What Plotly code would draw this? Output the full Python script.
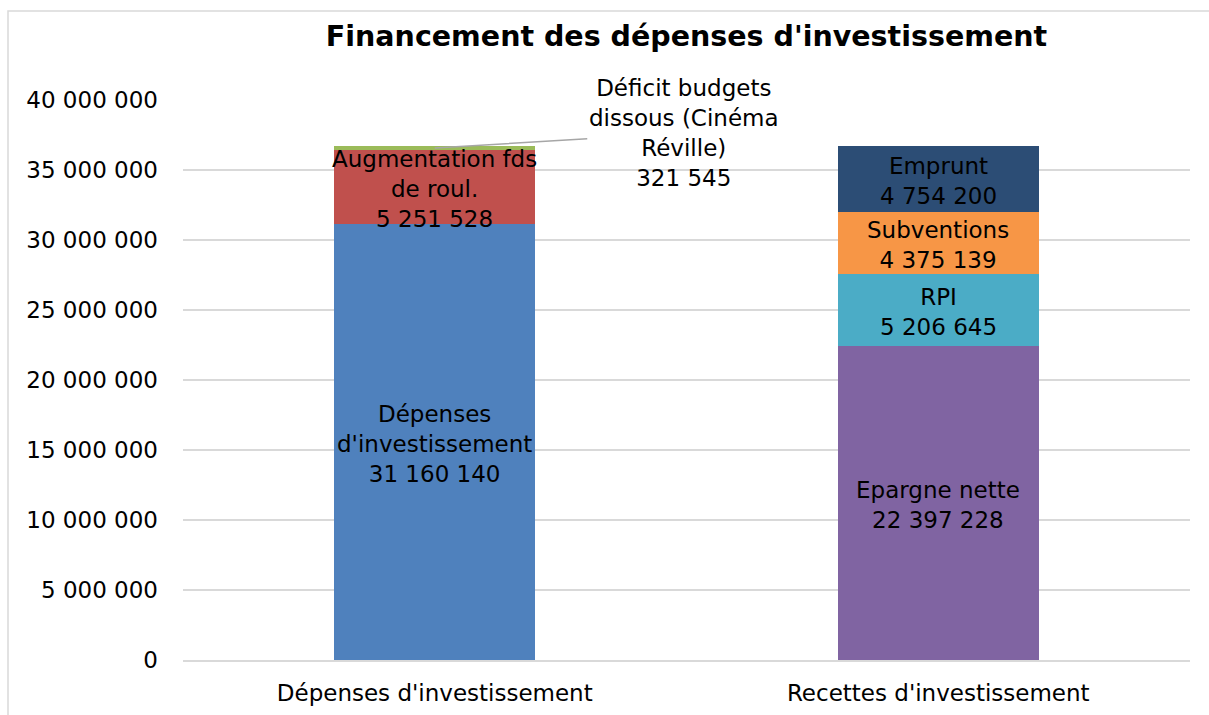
import plotly.graph_objects as go

categories = ["Dépenses d'investissement", "Recettes d'investissement"]

series_names = ["Dépenses d'investissement", "Augmentation fds de roul.",
                "Déficit budgets dissous (Cinéma Réville)",
                "Epargne nette", "RPI", "Subventions", "Emprunt"]
series_label_text = ["Dépenses<br>d'investissement", "Augmentation fds<br>de roul.",
                     "Déficit budgets<br>dissous (Cinéma<br>Réville)",
                     "Epargne nette", "RPI", "Subventions", "Emprunt"]
series_category = [0, 0, 0, 1, 1, 1, 1]
series_values = [31160140, 5251528, 321545, 22397228, 5206645, 4375139, 4754200]
series_colors = ["#4F81BD", "#C0504D", "#9BBB59", "#8064A2", "#4BACC6", "#F79646", "#2C4D75"]

y_ticks = [0, 5000000, 10000000, 15000000, 20000000, 25000000, 30000000, 35000000, 40000000]

FONT = "DejaVu Sans"
FS = 23

def fmt(v):
    return f"{v:,}".replace(",", " ")

fig = go.Figure()
cum = [0, 0]
annotations = []
for name, lab, ci, v, col in zip(series_names, series_label_text, series_category,
                                 series_values, series_colors):
    y = [None, None]
    y[ci] = v
    fig.add_trace(go.Bar(x=categories, y=y, name=name, marker_color=col,
                         marker_line_width=0))
    mid = cum[ci] + v / 2
    cum[ci] += v
    text = f"{lab}<br>{fmt(v)}"
    if v < 1000000:
        annotations.append(dict(x=categories[ci], y=mid, text=text, showarrow=True,
                                arrowhead=0, arrowwidth=1.5, arrowcolor="#A6A6A6",
                                ax=249, ay=-15, font=dict(family=FONT, size=FS, color="black")))
    else:
        annotations.append(dict(x=categories[ci], y=mid, text=text, showarrow=False,
                                yshift=-2,
                                font=dict(family=FONT, size=FS, color="black")))

W, H = 1209, 715
ml, mr, mt, mb = 183, 19, 100, 55
pw = W - ml - mr
ph = H - mt - mb

fig.update_layout(
    width=W, height=H,
    margin=dict(l=ml, r=mr, t=mt, b=mb),
    barmode="stack", bargap=0.6,
    showlegend=False,
    plot_bgcolor="white", paper_bgcolor="white",
    separators=", ",
    font=dict(family=FONT, size=FS, color="black"),
    title=dict(text="<b>Financement des dépenses d'investissement</b>",
               x=0.5, xref="paper", xanchor="center", y=1 - 36 / H, yanchor="middle",
               font=dict(family=FONT, size=28.5, color="black")),
    annotations=annotations,
    shapes=[dict(type="rect", xref="paper", yref="paper",
                 x0=(8 - ml) / pw, x1=(1220 - ml) / pw,
                 y0=-(mb + 10) / ph, y1=(H - 11 - mb) / ph,
                 line=dict(color="#D9D9D9", width=1.5), fillcolor="rgba(0,0,0,0)", layer="below")],
)
fig.update_xaxes(showgrid=False, showline=True, linecolor="#D9D9D9", linewidth=1.5,
                 ticks="", ticklabelstandoff=12, automargin=False,
                 tickfont=dict(family=FONT, size=FS, color="black"))
fig.update_yaxes(range=[0, 40000000], tickvals=y_ticks, tickformat=",d",
                 showgrid=True, gridcolor="#D9D9D9", gridwidth=1.5, automargin=False,
                 zeroline=False, showline=False, ticks="", ticklabelstandoff=24,
                 tickfont=dict(family=FONT, size=FS, color="black"))

fig.write_html("out.html", config={"displayModeBar": False},
               post_script="document.body.style.margin='0';document.body.style.overflow='hidden';")
